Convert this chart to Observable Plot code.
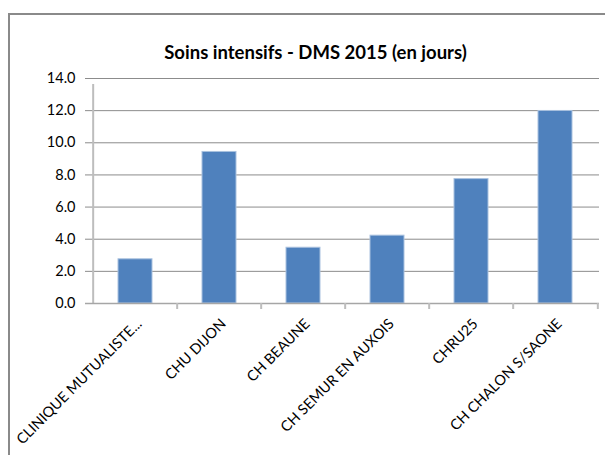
<!DOCTYPE html>
<html>
<head>
<meta charset="utf-8">
<script src="https://cdn.jsdelivr.net/npm/d3@7"></script>
<script src="https://cdn.jsdelivr.net/npm/@observablehq/plot@0.6"></script>
<style>
  html, body { margin: 0; padding: 0; background: #fff; }
  #wrap { position: relative; width: 605px; height: 455px; overflow: hidden; }
  #border { position: absolute; left: 8px; top: 13px; width: 620px; height: 470px;
            border: 2px solid #8a8a8a; box-sizing: border-box; pointer-events: none; }
  #chart { position: absolute; left: 0; top: 0; }
</style>
</head>
<body>
<div id="wrap"><div id="chart"></div><div id="border"></div></div>
<script>
const title = "Soins intensifs - DMS 2015 (en jours)";
const categories = ["CLINIQUE MUTUALISTE...", "CHU DIJON", "CH BEAUNE", "CH SEMUR EN AUXOIS", "CHRU25", "CH CHALON S/SAONE"];
const values = [2.75, 9.43, 3.47, 4.22, 7.74, 11.98];
const yTicks = [0, 2, 4, 6, 8, 10, 12, 14];

const data = categories.map((c, i) => ({category: c, value: values[i]}));

const W = 605, H = 455;
const mL = 91, mR = 6, mT = 78, mB = 152;
const step = (W - mL - mR) / categories.length;
const font = "Lato, 'Open Sans', sans-serif";

const chart = Plot.plot({
  width: W,
  height: H,
  marginLeft: mL,
  marginRight: mR,
  marginTop: mT,
  marginBottom: mB,
  style: {fontFamily: font, fontSize: "14px", color: "#000", background: "transparent"},
  x: {domain: categories, paddingInner: 0.6, paddingOuter: 0.3, axis: null},
  y: {domain: [0, 14], axis: null},
  marks: [
    Plot.ruleY(yTicks.filter(d => d > 0), {y: d => d, stroke: "#8c8c8c", strokeWidth: 1, insetLeft: -6}),
    Plot.ruleX([0], {x: () => categories[0], y1: 0, y2: 14, dx: -step / 2, stroke: "#bdbdbd", strokeWidth: 2, insetBottom: -6}),
    Plot.barY(data, {x: "category", y: "value", fill: "#4f81bd", stroke: "#a9c1df", strokeWidth: 1}),
    Plot.ruleY([0], {stroke: "#a6a6a6", strokeWidth: 1.5, insetLeft: -6}),
    Plot.ruleX(categories.slice(1), {x: d => d, y1: 0, y2: 0, dx: -step / 2, stroke: "#bdbdbd", strokeWidth: 2, insetBottom: -6}),
    Plot.ruleX([categories[categories.length - 1]], {x: d => d, y1: 0, y2: 0, dx: step / 2, stroke: "#bdbdbd", strokeWidth: 2, insetBottom: -6}),
    Plot.text(yTicks, {y: d => d, text: d => d.toFixed(1), frameAnchor: "left", textAnchor: "end", dx: -16, fill: "#000", fontSize: 14.5}),
    Plot.text(categories, {x: d => d, y: () => 0, text: d => d, rotate: -45, textAnchor: "end", dx: 4, dy: 18, fill: "#000", fontSize: 14.5}),
    Plot.text([title], {frameAnchor: "top", dx: -30, dy: -33, text: d => d, fontWeight: "bold", fontSize: 18.5, fill: "#000"})
  ]
});
document.getElementById("chart").appendChild(chart);
</script>
</body>
</html>
